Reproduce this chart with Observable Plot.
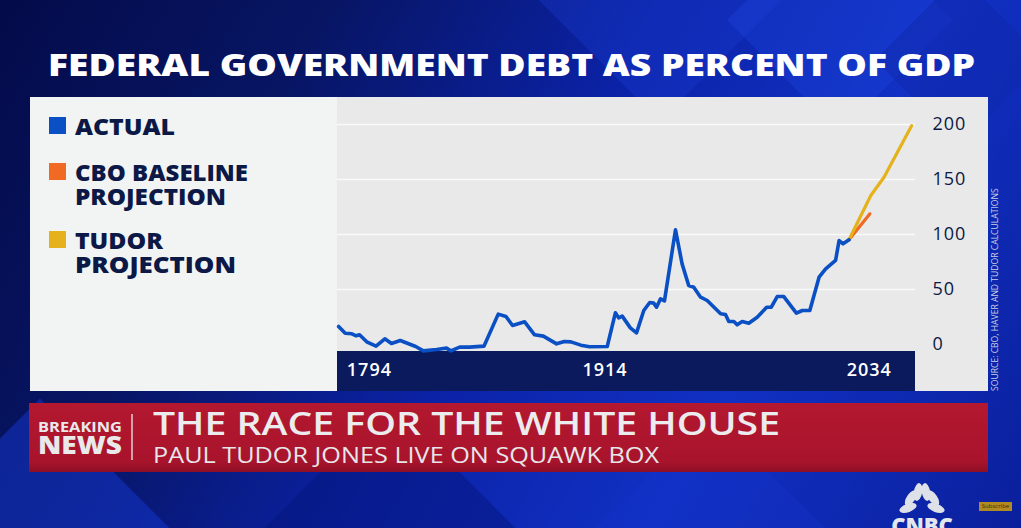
<!DOCTYPE html>
<html>
<head>
<meta charset="utf-8">
<script src="https://cdn.jsdelivr.net/npm/d3@7"></script>
<script src="https://cdn.jsdelivr.net/npm/@observablehq/plot@0.6"></script>
<style>
  html, body { margin: 0; padding: 0; }
  body { width: 1021px; height: 528px; overflow: hidden; position: relative;
    background: linear-gradient(120deg, #040b4a 0%, #071563 25%, #0b22a6 50%, #1131c4 72%, #0a1f9c 100%);
    font-family: "Open Sans", sans-serif; }
  .abs { position: absolute; }
  .deco { position: absolute; transform: rotate(45deg); }
  .fit { white-space: nowrap; transform-origin: 0 50%; display: inline-block; }
  #title { left: 48px; top: 46px; color: #fff; font-weight: 800; font-size: 30px; line-height: 38px; }
  .leg-sq { position: absolute; width: 17px; height: 17px; left: 49px; }
  .leg-t { position: absolute; left: 75px; color: #0c1845; font-weight: 800; font-size: 22px; line-height: 20px; }
  #chart svg { position: absolute; left: 0; top: 0; }
  #chart svg text { letter-spacing: 1px; }
</style>
</head>
<body>
<!-- background decoration -->
<div class="deco" style="left:560px;top:-120px;width:200px;height:200px;background:rgba(25,60,210,0.35)"></div>
<div class="deco" style="left:760px;top:-60px;width:160px;height:160px;background:rgba(30,70,220,0.35)"></div>
<div class="deco" style="left:900px;top:0px;width:120px;height:120px;background:rgba(15,40,170,0.45)"></div>
<div class="deco" style="left:-60px;top:440px;width:200px;height:200px;background:rgba(20,55,210,0.5)"></div>
<div class="deco" style="left:300px;top:440px;width:180px;height:180px;background:rgba(5,20,120,0.45)"></div>
<div class="deco" style="left:620px;top:450px;width:180px;height:180px;background:rgba(20,50,200,0.4)"></div>

<div id="title" class="abs"><span class="fit" data-w="927">FEDERAL GOVERNMENT DEBT AS PERCENT OF GDP</span></div>

<!-- panel -->
<div class="abs" style="left:30px;top:97px;width:307px;height:294px;background:#f2f4f4"></div>
<div class="abs" style="left:337px;top:97px;width:651px;height:294px;background:#e8e9e8"></div>
<div class="abs" style="left:337px;top:351px;width:578px;height:40px;background:#0a1a5c"></div>
<div id="legend"></div>
<div class="abs" style="left:995px;top:391px;transform-origin:0 0;transform:rotate(-90deg);color:#c9cfe6;font-size:8.6px;white-space:nowrap;line-height:10px;margin-left:-5px">SOURCE: CBO, HAVER AND TUDOR CALCULATIONS</div>

<div id="chart"></div>

<!-- banner -->
<div class="abs" style="left:29px;top:403px;width:959px;height:69px;background:linear-gradient(180deg,#b3182f 0%,#a8142c 85%,#8e0f24 100%)"></div>
<div class="abs" style="left:38px;top:420px;color:#e9e9ec;font-weight:700;font-size:15px;line-height:13px"><span class="fit" data-w="84">BREAKING</span></div>
<div class="abs" style="left:38px;top:434px;color:#e9e9ec;font-weight:800;font-size:25px;line-height:20px"><span class="fit" data-w="84">NEWS</span></div>
<div class="abs" style="left:131px;top:414px;width:1.5px;height:46px;background:#d9a0aa"></div>
<div class="abs" style="left:153px;top:408px;color:#ececee;font-weight:600;font-size:32px;line-height:30px"><span class="fit" data-w="627">THE RACE FOR THE WHITE HOUSE</span></div>
<div class="abs" style="left:153px;top:443px;color:#e6e6ea;font-weight:400;font-size:22px;line-height:22px"><span class="fit" data-w="506">PAUL TUDOR JONES LIVE ON SQUAWK BOX</span></div>

<!-- logo -->
<svg class="abs" style="left:885px;top:478px" width="80" height="50" viewBox="0 0 80 50">
  <g fill="#dfe1e8" transform="translate(37,34)">
    <ellipse cx="-14" cy="-4" rx="9" ry="4.2" transform="rotate(-20 -14 -4)"/>
    <ellipse cx="-11" cy="-14" rx="9" ry="4.2" transform="rotate(-55 -11 -14)"/>
    <ellipse cx="-4" cy="-20" rx="9" ry="4.2" transform="rotate(-80 -4 -20)"/>
    <ellipse cx="4" cy="-20" rx="9" ry="4.2" transform="rotate(80 4 -20)"/>
    <ellipse cx="11" cy="-14" rx="9" ry="4.2" transform="rotate(55 11 -14)"/>
    <ellipse cx="14" cy="-4" rx="9" ry="4.2" transform="rotate(20 14 -4)"/>
  </g>
  <text x="37" y="56" text-anchor="middle" fill="#e4e6ee" font-family="Open Sans" font-weight="800" font-size="22">CNBC</text>
</svg>
<div class="abs" style="left:979px;top:502px;width:33px;height:9px;background:#b28a22;color:#3a2a05;font-size:6px;line-height:9px;text-align:center">Subscribe</div>

<script>
// ---- data ----
const actualYears = [1793,1796,1799,1801,1802.5,1806,1810,1814,1817,1821,1824.5,1828,1831.5,1837.5,1842,1844,1848,1852.5,1859,1865.5,1869,1872,1877.5,1882,1886,1892,1895.5,1898.5,1903,1907,1915,1918.7,1920.2,1921.8,1925.5,1928.3,1931.6,1934.3,1936.1,1937.4,1939.2,1941,1946,1949,1952,1954.3,1957.4,1960.4,1966.5,1968.7,1970.2,1972.5,1974,1976.3,1979.3,1983.1,1987.4,1989.5,1992.2,1995.2,2000.9,2003.6,2007,2011.2,2014.2,2018.7,2020.3,2022.1,2024.8];
const actualDebt  = [16.4,10.3,9.7,7.9,8.8,2.1,-1.5,5.2,0.9,3.6,0.9,-1.8,-5.8,-4.5,-3.3,-5.8,-2.4,-2.4,-1.5,27.6,25.5,17.3,20.6,8.8,7.6,0.6,2.7,2.4,-0.6,-2.1,-1.8,28.8,24.2,25.8,15.1,10.6,30.9,38.2,37.6,33.9,41.5,39.7,104.3,73.3,53.6,52.1,43,40,27.9,27.3,20.9,20.9,17.9,20.9,19.4,24.8,33.9,33.9,43.6,43.6,28.5,30.9,30.9,61.2,68.8,76.4,94.5,91.5,95.2];
const cboYears   = [2024.8, 2034.3];
const cboDebt    = [95.2, 118.8];
const tudorYears = [2024.8, 2034.7, 2040.7, 2053.3];
const tudorDebt  = [95.2, 135.5, 152.1, 199];
const seriesNames  = ["ACTUAL", "CBO BASELINE PROJECTION", "TUDOR PROJECTION"];
const seriesColors = ["#0a4fc4", "#f06a23", "#e6b21c"];
const xTicks = [1794, 1914, 2034];
const yTicks = [0, 50, 100, 150, 200];
const gridTicks = [50, 100, 150, 200];

const rows = [
  ...actualYears.map((y, i) => ({year: y, debt: actualDebt[i], series: seriesNames[0]})),
  ...cboYears.map((y, i) => ({year: y, debt: cboDebt[i], series: seriesNames[1]})),
  ...tudorYears.map((y, i) => ({year: y, debt: tudorDebt[i], series: seriesNames[2]}))
];

// legend (HTML, built from series arrays)
const legendLayout = [
  {top: 117, lines: ["ACTUAL"], widths: [100]},
  {top: 163, lines: ["CBO BASELINE", "PROJECTION"], widths: [173, 151]},
  {top: 231, lines: ["TUDOR", "PROJECTION"], widths: [88, 161]}
];
const leg = document.getElementById("legend");
seriesNames.forEach((name, i) => {
  const L = legendLayout[i];
  const sq = document.createElement("div");
  sq.className = "leg-sq"; sq.style.top = L.top + "px"; sq.style.background = seriesColors[i];
  leg.appendChild(sq);
  L.lines.forEach((t, j) => {
    const d = document.createElement("div");
    d.className = "leg-t"; d.style.top = (L.top - 1.5 + j * 24) + "px";
    d.innerHTML = `<span class="fit" data-w="${L.widths[j]}">${t}</span>`;
    leg.appendChild(d);
  });
});

const axisFont = {fontFamily: "Open Sans", fontSize: 18};
const chart = Plot.plot({
  width: 1021,
  height: 391,
  marginLeft: 337,
  marginRight: 106,
  marginTop: 97,
  marginBottom: 40,
  style: {background: "transparent", overflow: "visible"},
  x: {domain: [1792.5, 2055], axis: null},
  y: {domain: [-6.3636, 224.545], axis: null},
  color: {domain: seriesNames, range: seriesColors},
  marks: [
    Plot.ruleY(gridTicks, {stroke: "#fafafa", strokeWidth: 1.6}),
    Plot.line(rows.filter(d => d.series === seriesNames[1]), {x: "year", y: "debt", stroke: "series", strokeWidth: 3.2}),
    Plot.line(rows.filter(d => d.series === seriesNames[2]), {x: "year", y: "debt", stroke: "series", strokeWidth: 3.2}),
    Plot.line(rows.filter(d => d.series === seriesNames[0]), {x: "year", y: "debt", stroke: "series", strokeWidth: 3.6, strokeLinejoin: "round"}),
    Plot.axisY(yTicks, {anchor: "right", label: null, tickSize: 0, tickPadding: 17, tickFormat: d => String(d), fontWeight: 500, fill: "#0c1845", ...axisFont}),
    Plot.axisX([xTicks[0]], {anchor: "bottom", label: null, tickSize: 0, tickPadding: 12, tickFormat: d => String(d), textAnchor: "start", dx: 6, fontWeight: 600, fill: "#ffffff", ...axisFont}),
    Plot.axisX(xTicks.slice(1), {anchor: "bottom", label: null, tickSize: 0, tickPadding: 12, tickFormat: d => String(d), fontWeight: 600, fill: "#ffffff", ...axisFont})
  ]
});
document.getElementById("chart").appendChild(chart);

// fit text spans to measured widths from the reference
document.querySelectorAll(".fit").forEach(el => {
  const target = +el.dataset.w;
  const w = el.getBoundingClientRect().width;
  if (w > 0) el.style.transform = `scaleX(${target / w})`;
});
</script>
</body>
</html>
